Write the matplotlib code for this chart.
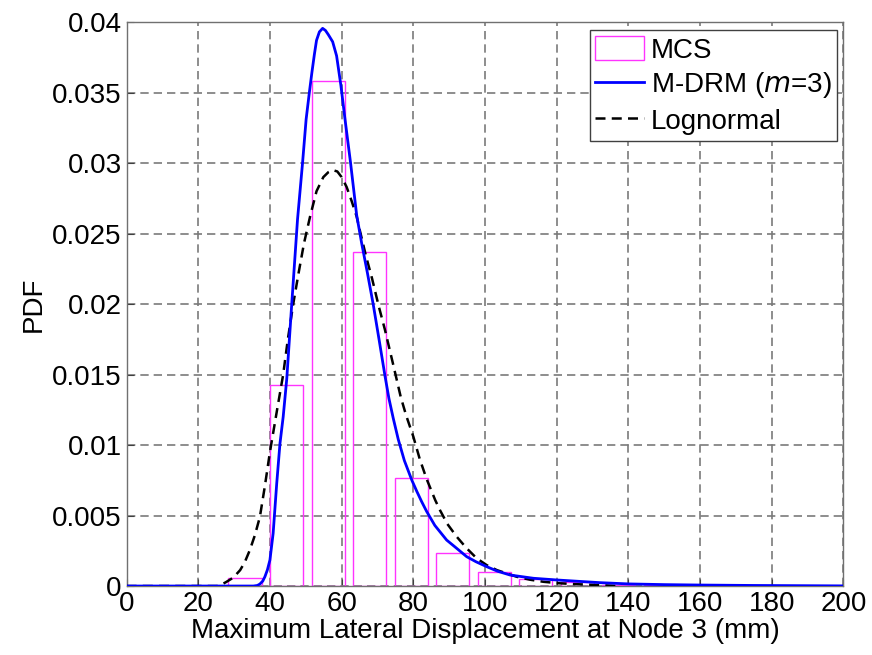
import matplotlib
matplotlib.use("Agg")
import matplotlib.pyplot as plt
from matplotlib.patches import Patch
from matplotlib.lines import Line2D

plt.rcParams['font.family'] = ['Liberation Sans', 'DejaVu Sans']

# Histogram (MCS)
bin_centers = [33.05, 44.65, 56.25, 67.85, 79.4, 91.0, 102.55, 114.15, 125.75, 137.3, 148.9]
bin_heights = [0.00059, 0.01426, 0.03582, 0.02371, 0.00764, 0.00236, 0.00099, 0.00052, 0.00030, 0.00010, 0.00005]

# M-DRM (m=3)
mdrm_x = [0, 30, 35.4, 36.5, 37.2, 38.0, 38.6, 39.3, 40.0, 40.9, 41.9, 42.8, 43.7, 44.7, 46.1,
          47.7, 49.1, 50.1, 51.0, 51.7, 52.4, 53.0, 53.8, 54.7, 55.5, 56.3, 57.5, 58.6, 59.8,
          60.9, 62.5, 64.2, 65.6, 67.2, 68.8, 70.5, 72.1, 73.2, 74.4, 75.8, 77.5, 79.6, 81.0,
          82.3, 83.7, 86.0, 89.3, 91.5, 94.9, 97.5, 100.5, 103.5, 107.0, 113.5, 120.0, 132.0,
          140.0, 150.0, 160.0, 175.0, 200.0]
mdrm_y = [0, 0, 0, 0.00004, 0.00014, 0.00035, 0.00066, 0.00115, 0.00184, 0.00374, 0.00728,
          0.0101, 0.0120, 0.0147, 0.02005, 0.0260, 0.0300, 0.0331, 0.0350, 0.0364, 0.0377,
          0.0387, 0.0393, 0.03955, 0.0394, 0.0391, 0.0386, 0.0376, 0.0355, 0.0332, 0.0300,
          0.0263, 0.0243, 0.0222, 0.0200, 0.0174, 0.0149, 0.0133, 0.0119, 0.0104, 0.0089,
          0.0075, 0.0067, 0.0060, 0.0053, 0.0043, 0.00326, 0.0028, 0.00208, 0.00172, 0.00137,
          0.00105, 0.00078, 0.00055, 0.00043, 0.00024, 0.00015, 0.00010, 0.00007, 0.00004,
          0.00001]

# Lognormal
logn_x = [0, 25.2, 26.5, 27.9, 29.8, 31.7, 33.0, 34.4, 35.8, 37.2, 38.6, 40.0, 42.0, 43.7,
          45.0, 46.5, 48.0, 49.5, 51.2, 53.0, 54.9, 56.3, 57.5, 58.8, 60.0, 61.4, 62.8, 64.2,
          65.1, 66.8, 68.5, 70.3, 72.1, 74.3, 76.5, 78.0, 80.0, 81.8, 83.7, 86.1, 87.4, 89.5,
          92.1, 94.8, 97.7, 100.5, 103.3, 108.8, 112.5, 116.3, 120.5, 124.6, 128.5, 132.0,
          137.0]
logn_y = [0, 0, 0.0001, 0.0003, 0.0006, 0.00113, 0.0017, 0.00255, 0.0036, 0.0049, 0.0071,
          0.0095, 0.0125, 0.0150, 0.0175, 0.0200, 0.0222, 0.0243, 0.0262, 0.0280, 0.0290,
          0.02935, 0.0295, 0.0294, 0.0290, 0.0283, 0.0273, 0.0262, 0.0252, 0.0234, 0.0218,
          0.0199, 0.01816, 0.0158, 0.0134, 0.0121, 0.0106, 0.0090, 0.0076, 0.0061, 0.0054,
          0.0044, 0.0035, 0.0027, 0.00196, 0.00148, 0.00113, 0.00066, 0.00045, 0.00030,
          0.00020, 0.00014, 0.00010, 0.00007, 0.0]

x_ticks = [0, 20, 40, 60, 80, 100, 120, 140, 160, 180, 200]
y_ticks = [0, 0.005, 0.01, 0.015, 0.02, 0.025, 0.03, 0.035, 0.04]
y_tick_labels = ['0', '0.005', '0.01', '0.015', '0.02', '0.025', '0.03', '0.035', '0.04']

fig = plt.figure(figsize=(8.72, 6.55), dpi=100)
ax = fig.add_axes([0.1451, 0.1053, 0.8222, 0.8611])

bin_width = (bin_centers[-1] - bin_centers[0]) / (len(bin_centers) - 1)
ax.bar(bin_centers, bin_heights, width=0.8 * bin_width, facecolor='none',
       edgecolor='#ff33ff', linewidth=1.0, zorder=2)
ax.plot(mdrm_x, mdrm_y, color='#0000ff', lw=2.0, zorder=4)
ax.plot(logn_x, logn_y, color='black', lw=1.8, dashes=(4, 2.5), zorder=3)

ax.set_xlim(0, 200)
ax.set_ylim(0, 0.04)
ax.set_xticks(x_ticks)
ax.set_xticklabels([str(v) for v in x_ticks])
ax.set_yticks(y_ticks)
ax.set_yticklabels(y_tick_labels)
ax.tick_params(direction='in', labelsize=20, length=5, colors='#404040', labelcolor='black')
ax.grid(True, color='#7a7a7a', linestyle=(0, (5, 3)), linewidth=1.2, zorder=0)
ax.set_axisbelow(True)
for s in ax.spines.values():
    s.set_color('#707070')
    s.set_linewidth(1.0)

ax.set_xlabel('Maximum Lateral Displacement at Node 3 (mm)', fontsize=20, labelpad=1)
ax.set_ylabel('PDF', fontsize=20, labelpad=4)

handles = [Patch(facecolor='white', edgecolor='#ff33ff', linewidth=1.0),
           Line2D([], [], color='#0000ff', lw=2.0),
           Line2D([], [], color='black', lw=1.8, dashes=(4, 2.5))]
labels = ['MCS', 'M-DRM ($m$=3)', 'Lognormal']
leg = ax.legend(handles, labels, loc='upper right', bbox_to_anchor=(0.991, 0.985),
                fontsize=20, frameon=True, fancybox=False, framealpha=1,
                edgecolor='#404040', handlelength=1.75, handleheight=0.95,
                handletextpad=0.25, borderpad=0.2, labelspacing=0.25, borderaxespad=0)
leg.get_frame().set_linewidth(1.0)

fig.savefig('out.png', dpi=100)
